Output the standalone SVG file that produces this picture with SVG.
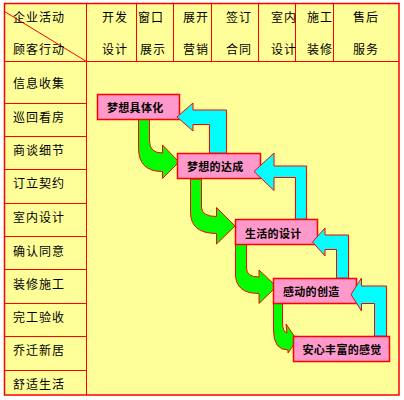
<svg xmlns="http://www.w3.org/2000/svg" width="404" height="400" viewBox="0 0 404 400">
<style>
.grid{stroke:#FF0000;stroke-width:1;fill:none}
.t{font-family:"Noto Sans CJK SC","Noto Sans",sans-serif;font-size:12px;letter-spacing:1px;fill:#000;dominant-baseline:central}
.box rect{fill:#FF99CC;stroke:#FF0000;stroke-width:1.5}
.box text{font-family:"Noto Sans CJK SC","Noto Sans",sans-serif;font-size:11px;font-weight:bold;letter-spacing:0.3px;fill:#000;dominant-baseline:central}
.g{fill:#00FF00;stroke:#FF0000;stroke-width:1}
.c{fill:#00FFFF;stroke:#FF0000;stroke-width:1}
</style>
<rect width="404" height="400" fill="#FFFFFF"/>
<g id="table">
<rect x="4.5" y="3.5" width="394.5" height="391.5" fill="#FFFF99" stroke="#FF0000" stroke-width="1.5"/>
<path class="grid" d="M4.5,61.5H399 M86.5,3.5V395 M136.5,3.5V61.5 M173.5,3.5V61.5 M211.5,3.5V61.5 M258.5,3.5V61.5 M295.5,3.5V61.5 M333.5,3.5V61.5 M4.5,103.5H86.5 M4.5,136.5H86.5 M4.5,169.5H86.5 M4.5,203.5H86.5 M4.5,236.5H86.5 M4.5,269.5H86.5 M4.5,303.5H86.5 M4.5,336.5H86.5 M4.5,370.5H86.5"/>
<line x1="4.5" y1="11.5" x2="86.5" y2="61.5" stroke="#FF0000" stroke-width="1"/>
<text class="t" x="13" y="16">企业活动</text>
<text class="t" x="13" y="48.5">顾客行动</text>
<text class="t" x="102" y="16">开发</text>
<text class="t" x="102" y="48.5">设计</text>
<text class="t" x="138" y="16">窗口</text>
<text class="t" x="140" y="48.5">展示</text>
<text class="t" x="183" y="16">展开</text>
<text class="t" x="183" y="48.5">营销</text>
<text class="t" x="226" y="16">签订</text>
<text class="t" x="226" y="48.5">合同</text>
<text class="t" x="271" y="16">室内</text>
<text class="t" x="271" y="48.5">设计</text>
<text class="t" x="307" y="16">施工</text>
<text class="t" x="307" y="48.5">装修</text>
<text class="t" x="353" y="16">售后</text>
<text class="t" x="353" y="48.5">服务</text>
<text class="t" x="13" y="82.5">信息收集</text>
<text class="t" x="13" y="116">巡回看房</text>
<text class="t" x="13" y="149.5">商谈细节</text>
<text class="t" x="13" y="182.5">订立契约</text>
<text class="t" x="13" y="216.5">室内设计</text>
<text class="t" x="13" y="250">确认同意</text>
<text class="t" x="13" y="283">装修施工</text>
<text class="t" x="13" y="316.5">完工验收</text>
<text class="t" x="13" y="349.5">乔迁新居</text>
<text class="t" x="13" y="383">舒适生活</text>
</g>
<g id="connectors-green">
<path class="g" d="M138.5,119 L149.5,119 L149.5,141 Q149.5,153 162.5,153 L162.5,145 L179,162 L162.5,178.5 L162.5,171.5 Q138.5,171.5 138.5,148 Z"/>
<path class="g" d="M190.5,179 L201.5,179 L201.5,207 Q201.5,216.5 216.5,216.5 L216.5,207.5 L235,226 L216.5,244 L216.5,233.5 Q190.5,233.5 190.5,212 Z"/>
<path class="g" d="M235.5,244 L246.5,244 L246.5,268 Q246.5,277 259,277 L259,270 L276.5,286.5 L259,303.5 L259,293.5 Q235.5,293.5 235.5,274 Z"/>
<path class="g" d="M273.5,303 L282.5,303 L282.5,322 Q282.5,332 287,333 L286,324 L297,340 L288,353 L288,350 Q273.5,350 273.5,330 Z"/>
</g>
<g id="n1" class="box"><rect x="97.5" y="94.5" width="82" height="25"/><text x="107" y="107">梦想具体化</text></g>
<g id="n2" class="box"><rect x="177.5" y="153.5" width="83" height="25"/><text x="187" y="166">梦想的达成</text></g>
<g id="n3" class="box"><rect x="235.5" y="219.5" width="82" height="25"/><text x="245" y="232.5">生活的设计</text></g>
<g id="n4" class="box"><rect x="273.5" y="278.5" width="83" height="25"/><text x="283" y="291">感动的创造</text></g>
<g id="n5" class="box"><rect x="293.5" y="336.5" width="96" height="25"/><text x="302.5" y="348.5">安心丰富的感觉</text></g>
<g id="connectors-cyan">
<path class="c" d="M226.5,153 L226.5,110 L193,110 L193,103 L177,117 L193,131 L193,124.5 L209.5,124.5 L209.5,153 Z"/>
<path class="c" d="M306.5,219 L306.5,166 L274,166 L274,153 L254,171.5 L274,190.5 L274,177.5 L295.5,177.5 L295.5,219 Z"/>
<path class="c" d="M348.5,278 L348.5,235 L325,235 L325,228 L312.5,242 L325,256 L325,249.5 L336.5,249.5 L336.5,278 Z"/>
<path class="c" d="M386.5,336 L386.5,286 L361.5,286 L361.5,278 L351,294.5 L361.5,311 L361.5,303.5 L374.5,303.5 L374.5,336 Z"/>
</g>
</svg>
